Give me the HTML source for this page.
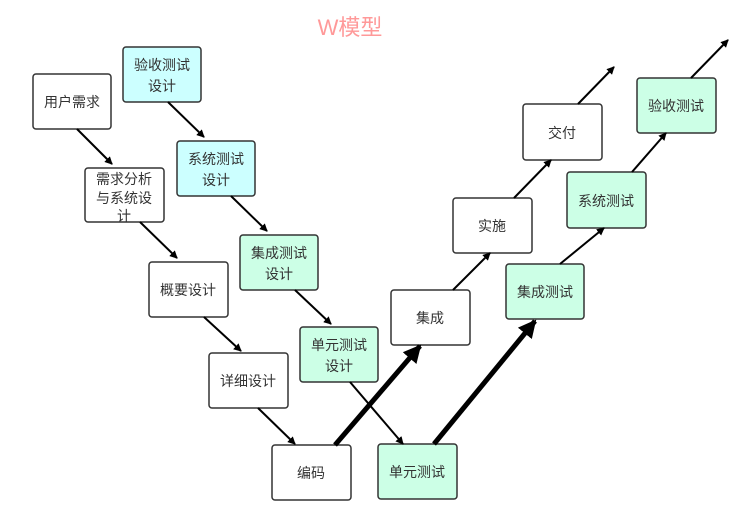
<!DOCTYPE html>
<html><head><meta charset="utf-8"><style>
html,body{margin:0;padding:0;background:#fff;width:751px;height:525px;overflow:hidden}
text{font-family:"Liberation Sans","Noto Sans CJK SC",sans-serif;font-size:14px;fill:#333}
</style></head><body>
<svg width="751" height="525" viewBox="0 0 751 525" xmlns="http://www.w3.org/2000/svg">
<defs>
<marker id="a" markerWidth="8" markerHeight="8" refX="7" refY="4" orient="auto" markerUnits="userSpaceOnUse"><path d="M0,0 L8,4 L0,8 Z" fill="#000"/></marker>
<marker id="b" markerWidth="18" markerHeight="18" refX="16" refY="9" orient="auto" markerUnits="userSpaceOnUse"><path d="M0,0 L18,9 L0,18 Z" fill="#000"/></marker>
</defs>
<text x="350" y="35" text-anchor="middle" style="font-size:22px;fill:#ff9999">W模型</text>
<g stroke="#333" stroke-width="1.5">
<rect x="33" y="74" width="78" height="55" rx="3" fill="#fff"/>
<rect x="123" y="47" width="78" height="55" rx="3" fill="#ccffff"/>
<rect x="85" y="168" width="79" height="54" rx="3" fill="#fff"/>
<rect x="177" y="141" width="78" height="55" rx="3" fill="#ccffff"/>
<rect x="149" y="262" width="79" height="55" rx="3" fill="#fff"/>
<rect x="240" y="235" width="78" height="55" rx="3" fill="#ccffe6"/>
<rect x="209" y="353" width="79" height="55" rx="3" fill="#fff"/>
<rect x="300" y="327" width="78" height="55" rx="3" fill="#ccffe6"/>
<rect x="272" y="445" width="79" height="55" rx="3" fill="#fff"/>
<rect x="378" y="444" width="79" height="55" rx="3" fill="#ccffe6"/>
<rect x="391" y="290" width="79" height="55" rx="3" fill="#fff"/>
<rect x="506" y="264" width="78" height="55" rx="3" fill="#ccffe6"/>
<rect x="453" y="198" width="79" height="55" rx="3" fill="#fff"/>
<rect x="567" y="172" width="79" height="56" rx="3" fill="#ccffe6"/>
<rect x="523" y="104" width="79" height="56" rx="3" fill="#fff"/>
<rect x="637" y="78" width="79" height="55" rx="3" fill="#ccffe6"/>
</g>
<g stroke="#000" stroke-width="2" marker-end="url(#a)">
<line x1="77" y1="129" x2="112" y2="164"/>
<line x1="168" y1="102" x2="204" y2="137"/>
<line x1="140" y1="222" x2="177" y2="258"/>
<line x1="231" y1="196" x2="267" y2="231"/>
<line x1="204" y1="317" x2="241" y2="351"/>
<line x1="295" y1="290" x2="331" y2="324"/>
<line x1="258" y1="408" x2="295" y2="444"/>
<line x1="350" y1="382" x2="403" y2="444"/>
<line x1="453" y1="290" x2="490" y2="253"/>
<line x1="514" y1="198" x2="551" y2="160"/>
<line x1="560" y1="264" x2="604" y2="228"/>
<line x1="632" y1="172" x2="666" y2="133"/>
<line x1="578" y1="104" x2="614" y2="67"/>
<line x1="691" y1="78" x2="728" y2="40"/>
</g>
<g stroke="#000" stroke-width="5" marker-end="url(#b)">
<line x1="335" y1="445" x2="420" y2="346"/>
<line x1="434" y1="444" x2="535" y2="321"/>
</g>
<g text-anchor="middle">
<text x="72" y="107">用户需求</text>
<text x="162" y="70">验收测试</text><text x="162" y="91">设计</text>
<text x="124" y="184">需求分析</text><text x="124" y="203">与系统设</text><text x="124" y="221">计</text>
<text x="216" y="164">系统测试</text><text x="216" y="185">设计</text>
<text x="188" y="295">概要设计</text>
<text x="279" y="258">集成测试</text><text x="279" y="279">设计</text>
<text x="248" y="386">详细设计</text>
<text x="339" y="350">单元测试</text><text x="339" y="371">设计</text>
<text x="311" y="478">编码</text>
<text x="417" y="477">单元测试</text>
<text x="430" y="323">集成</text>
<text x="545" y="297">集成测试</text>
<text x="492" y="231">实施</text>
<text x="606" y="206">系统测试</text>
<text x="562" y="138">交付</text>
<text x="676" y="111">验收测试</text>
</g>
</svg>
</body></html>
